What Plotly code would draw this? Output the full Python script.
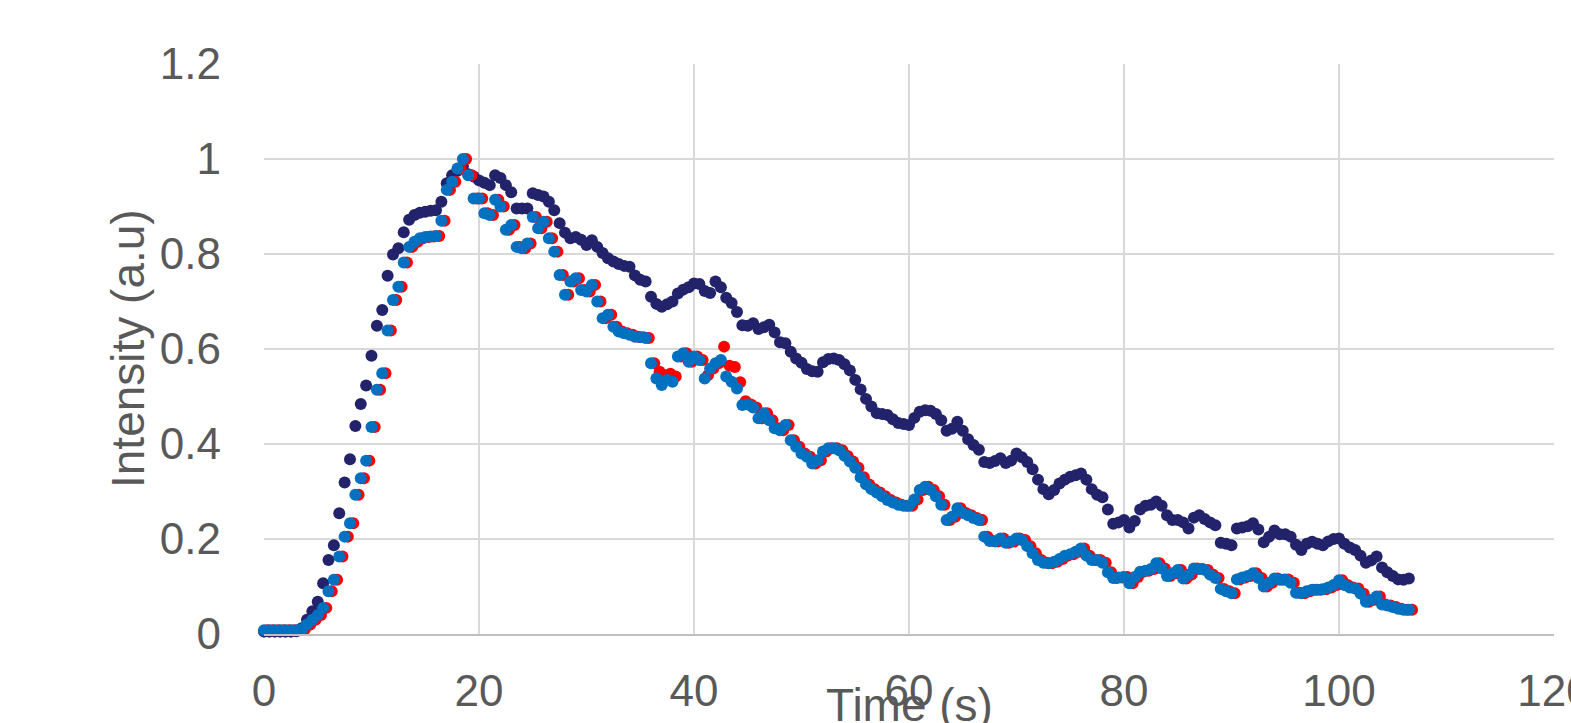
import numpy as np
import plotly.graph_objects as go

# sampling: one point every 0.5 s
dt = 0.5
red_t0 = 0.3  # red samples are offset slightly in time

navy = [
    0.005, 0.005, 0.005, 0.005, 0.005, 0.005, 0.006, 0.012, 0.030, 0.048,
    0.068, 0.107, 0.156, 0.187, 0.254, 0.319, 0.368, 0.438, 0.484, 0.523,
    0.586, 0.649, 0.682, 0.754, 0.799, 0.812, 0.846, 0.872, 0.882, 0.887,
    0.889, 0.891, 0.892, 0.910, 0.949, 0.966, 0.975, 0.985, 0.968, 0.963,
    0.955, 0.950, 0.945, 0.966, 0.960, 0.945, 0.930, 0.896, 0.896, 0.896,
    0.928, 0.924, 0.921, 0.910, 0.892, 0.865, 0.845, 0.833, 0.836, 0.830,
    0.819, 0.829, 0.815, 0.802, 0.791, 0.784, 0.779, 0.775, 0.773, 0.755,
    0.746, 0.742, 0.710, 0.695, 0.689, 0.694, 0.700, 0.717, 0.725, 0.730,
    0.738, 0.737, 0.722, 0.718, 0.742, 0.730, 0.708, 0.697, 0.678, 0.650,
    0.649, 0.654, 0.642, 0.646, 0.651, 0.635, 0.614, 0.612, 0.594, 0.580,
    0.571, 0.558, 0.553, 0.552, 0.572, 0.579, 0.580, 0.577, 0.568, 0.555,
    0.535, 0.515, 0.495, 0.479, 0.465, 0.463, 0.461, 0.452, 0.444, 0.442,
    0.440, 0.455, 0.468, 0.471, 0.470, 0.463, 0.450, 0.428, 0.432, 0.447,
    0.428, 0.410, 0.398, 0.388, 0.362, 0.360, 0.364, 0.370, 0.360, 0.365,
    0.380, 0.372, 0.362, 0.347, 0.325, 0.305, 0.294, 0.303, 0.317, 0.325,
    0.331, 0.334, 0.338, 0.325, 0.305, 0.293, 0.288, 0.262, 0.232, 0.235,
    0.240, 0.224, 0.238, 0.262, 0.270, 0.272, 0.279, 0.270, 0.250, 0.240,
    0.240, 0.235, 0.222, 0.245, 0.250, 0.242, 0.235, 0.229, 0.192, 0.190,
    0.187, 0.222, 0.224, 0.227, 0.233, 0.220, 0.193, 0.205, 0.218, 0.210,
    0.210, 0.205, 0.188, 0.177, 0.190, 0.194, 0.190, 0.187, 0.195, 0.200,
    0.201, 0.190, 0.182, 0.177, 0.165, 0.150, 0.155, 0.163, 0.140, 0.130,
    0.122, 0.115, 0.114, 0.117,
]

blue = [
    0.008, 0.008, 0.008, 0.008, 0.008, 0.008, 0.008, 0.010, 0.020, 0.030,
    0.040, 0.055, 0.090, 0.114, 0.163, 0.205, 0.233, 0.293, 0.328, 0.365,
    0.436, 0.514, 0.549, 0.639, 0.703, 0.731, 0.782, 0.815, 0.826, 0.833,
    0.836, 0.837, 0.838, 0.870, 0.935, 0.952, 0.980, 1.000, 0.966, 0.917,
    0.917, 0.886, 0.882, 0.914, 0.900, 0.851, 0.861, 0.815, 0.812, 0.822,
    0.878, 0.854, 0.868, 0.833, 0.805, 0.756, 0.714, 0.742, 0.749, 0.724,
    0.721, 0.735, 0.700, 0.665, 0.672, 0.647, 0.637, 0.633, 0.630, 0.626,
    0.625, 0.623, 0.570, 0.538, 0.524, 0.535, 0.531, 0.584, 0.591, 0.573,
    0.584, 0.577, 0.538, 0.559, 0.570, 0.577, 0.542, 0.531, 0.517, 0.482,
    0.483, 0.477, 0.454, 0.465, 0.450, 0.433, 0.429, 0.440, 0.408, 0.394,
    0.380, 0.373, 0.359, 0.366, 0.384, 0.391, 0.391, 0.387, 0.375, 0.363,
    0.350, 0.330, 0.315, 0.305, 0.298, 0.290, 0.282, 0.277, 0.272, 0.270,
    0.270, 0.283, 0.303, 0.310, 0.303, 0.290, 0.272, 0.240, 0.247, 0.265,
    0.255, 0.250, 0.244, 0.240, 0.205, 0.196, 0.195, 0.201, 0.192, 0.195,
    0.201, 0.198, 0.185, 0.170, 0.156, 0.150, 0.149, 0.152, 0.158, 0.165,
    0.168, 0.173, 0.180, 0.165, 0.156, 0.156, 0.150, 0.130, 0.118, 0.119,
    0.120, 0.107, 0.120, 0.131, 0.133, 0.137, 0.149, 0.138, 0.122, 0.128,
    0.135, 0.117, 0.125, 0.138, 0.137, 0.135, 0.125, 0.118, 0.095, 0.090,
    0.086, 0.115, 0.119, 0.122, 0.128, 0.118, 0.100, 0.108, 0.117, 0.114,
    0.115, 0.108, 0.087, 0.086, 0.090, 0.093, 0.093, 0.094, 0.098, 0.103,
    0.113, 0.103, 0.098, 0.096, 0.085, 0.068, 0.072, 0.079, 0.062, 0.060,
    0.057, 0.053, 0.051, 0.051,
]

red = [
    0.008, 0.008, 0.008, 0.008, 0.008, 0.008, 0.008, 0.010, 0.020, 0.030,
    0.040, 0.055, 0.090, 0.114, 0.163, 0.205, 0.233, 0.293, 0.328, 0.365,
    0.436, 0.514, 0.549, 0.639, 0.703, 0.731, 0.782, 0.815, 0.826, 0.833,
    0.836, 0.837, 0.838, 0.870, 0.935, 0.952, 0.980, 1.000, 0.966, 0.917,
    0.917, 0.886, 0.882, 0.914, 0.900, 0.851, 0.861, 0.815, 0.812, 0.822,
    0.878, 0.854, 0.868, 0.833, 0.805, 0.756, 0.714, 0.742, 0.749, 0.724,
    0.721, 0.735, 0.700, 0.665, 0.672, 0.647, 0.637, 0.633, 0.630, 0.626,
    0.625, 0.623, 0.570, 0.552, 0.545, 0.548, 0.542, 0.584, 0.591, 0.573,
    0.584, 0.577, 0.545, 0.559, 0.570, 0.605, 0.565, 0.562, 0.530, 0.490,
    0.483, 0.477, 0.454, 0.465, 0.450, 0.433, 0.429, 0.440, 0.408, 0.394,
    0.380, 0.373, 0.359, 0.366, 0.384, 0.391, 0.391, 0.387, 0.375, 0.363,
    0.350, 0.330, 0.315, 0.305, 0.298, 0.290, 0.282, 0.277, 0.272, 0.270,
    0.270, 0.283, 0.303, 0.310, 0.303, 0.290, 0.272, 0.240, 0.247, 0.265,
    0.255, 0.250, 0.244, 0.240, 0.205, 0.196, 0.195, 0.201, 0.192, 0.195,
    0.201, 0.198, 0.185, 0.170, 0.156, 0.150, 0.149, 0.152, 0.158, 0.165,
    0.168, 0.173, 0.180, 0.165, 0.156, 0.156, 0.150, 0.130, 0.118, 0.119,
    0.120, 0.107, 0.120, 0.131, 0.133, 0.137, 0.149, 0.138, 0.122, 0.128,
    0.135, 0.117, 0.125, 0.138, 0.137, 0.135, 0.125, 0.118, 0.095, 0.090,
    0.086, 0.115, 0.119, 0.122, 0.128, 0.118, 0.100, 0.108, 0.117, 0.114,
    0.115, 0.108, 0.087, 0.086, 0.090, 0.093, 0.093, 0.094, 0.098, 0.103,
    0.113, 0.103, 0.098, 0.096, 0.085, 0.068, 0.072, 0.079, 0.062, 0.060,
    0.057, 0.053, 0.051, 0.051,
]

x_ticks = [0, 20, 40, 60, 80, 100, 120]
y_ticks = [0, 0.2, 0.4, 0.6, 0.8, 1.0, 1.2]
y_ticktext = ["0", "0.2", "0.4", "0.6", "0.8", "1", "1.2"]

t_navy = np.arange(len(navy)) * dt
t_blue = np.arange(len(blue)) * dt
t_red = np.arange(len(red)) * dt + red_t0

fig = go.Figure()
series = [
    (t_navy, navy, "#23236B"),
    (t_red, red, "#FF0000"),
    (t_blue, blue, "#0070C0"),
]
for tx, vy, col in series:
    fig.add_trace(go.Scatter(
        x=tx, y=vy, mode="markers",
        marker=dict(size=12, color=col, line=dict(width=0)),
        cliponaxis=False, hoverinfo="skip",
    ))

FONT = "Liberation Sans, Arial, sans-serif"
fig.update_layout(
    width=1571, height=723,
    margin=dict(l=264, r=17, t=64, b=89, autoexpand=False),
    plot_bgcolor="white", paper_bgcolor="white",
    showlegend=False,
    font=dict(family=FONT, color="#595959", size=44),
    xaxis=dict(
        range=[0, 120], tickvals=x_ticks, showgrid=True,
        gridcolor="#D9D9D9", gridwidth=1.5, zeroline=False,
        showline=True, linecolor="#BFBFBF", linewidth=2,
        ticks="", ticklabelstandoff=17, automargin=False,
        ticklabeloverflow="allow",
        tickfont=dict(size=44, color="#595959"),
    ),
    yaxis=dict(
        range=[0, 1.2], tickvals=y_ticks, ticktext=y_ticktext,
        showgrid=True, gridcolor="#D9D9D9", gridwidth=1.5,
        zeroline=False, showline=False, ticks="", automargin=False,
        ticklabelstandoff=42, ticklabeloverflow="allow",
        tickfont=dict(size=44, color="#595959"),
    ),
    annotations=[
        dict(text="Time (s)", xref="paper", yref="paper",
             x=0.5, y=(18 - 89) / 570, xanchor="center", yanchor="middle",
             showarrow=False, font=dict(size=46, color="#595959", family=FONT)),
        dict(text="Intensity (a.u)", xref="paper", yref="paper",
             x=(128 - 264) / 1290, y=0.5, xanchor="center", yanchor="middle",
             textangle=-90, showarrow=False,
             font=dict(size=46, color="#595959", family=FONT)),
    ],
)

fig.write_html(
    "out.html",
    config={"displayModeBar": False},
    post_script="document.body.style.margin='0px';document.body.style.overflow='hidden';",
)
